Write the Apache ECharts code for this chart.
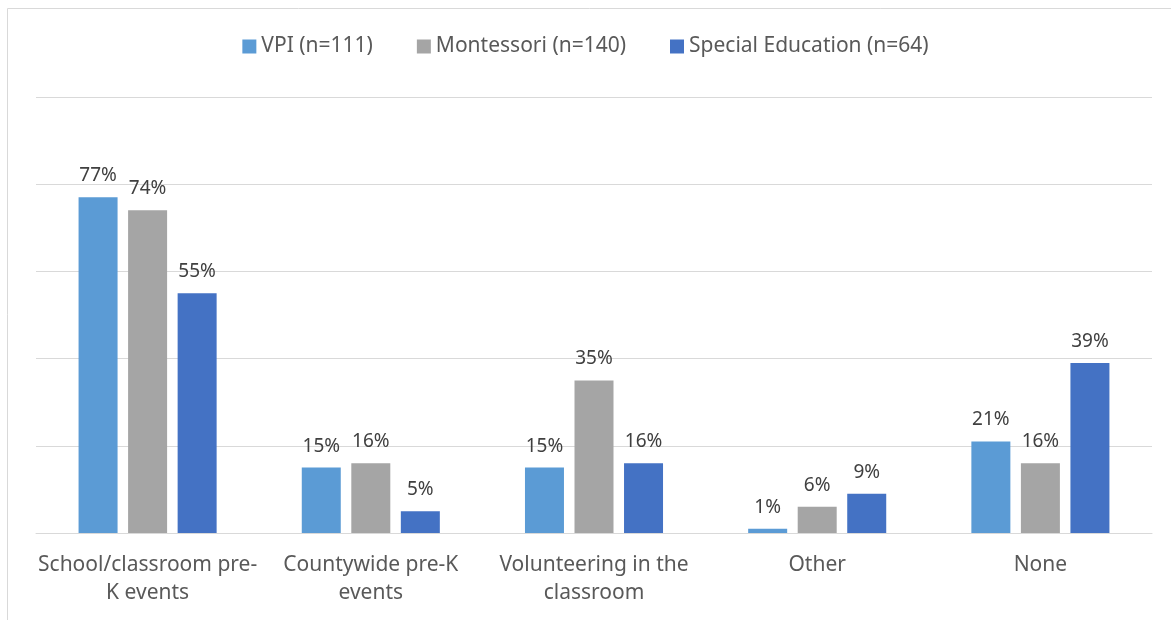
<!DOCTYPE html>
<html>
<head>
<meta charset="utf-8">
<script src="https://cdn.jsdelivr.net/npm/echarts@6/dist/echarts.min.js"></script>
<style>
  html, body { margin: 0; padding: 0; background: #fff; }
  #main { width: 1171px; height: 620px; }
</style>
</head>
<body>
<div id="main"></div>
<script>
	// 数据
	var categories = ['School/classroom pre-\nK events', 'Countywide pre-K\nevents', 'Volunteering in the\nclassroom', 'Other', 'None'];
	var seriesNames = ['VPI (n=111)', 'Montessori (n=140)', 'Special Education (n=64)'];
	var vpi = [77, 15, 15, 1, 21];
	var montessori = [74, 16, 35, 6, 16];
	var specialEd = [55, 5, 16, 9, 39];
	var colors = ['#5B9BD5', '#A5A5A5', '#4472C4'];

	var fontName = 'Noto Sans';
	var textColor = '#595959';

	function makeSeries(name, data, color){
		return {
			name: name,
			type: 'bar',
			data: data,
			barWidth: 39,
			barGap: '27%',
			itemStyle: { color: color },
			label: {
				show: true,
				position: 'top',
				distance: 12,
				formatter: '{c}%',
				color: '#404040',
				fontSize: 19,
				fontFamily: fontName
			}
		};
	}

	var myChart = echarts.init(document.getElementById('main'));
	var option = {
		animation: false,
		textStyle: { fontFamily: fontName },
		legend: {
			top: 31,
			left: 'center',
			itemWidth: 14,
			itemHeight: 14,
			itemGap: 44,
			icon: 'rect',
			textStyle: { color: textColor, fontSize: 21, fontFamily: fontName },
			data: seriesNames
		},
		graphic: [{
			type: 'rect',
			shape: { x: 7.5, y: 8.5, width: 1200, height: 700 },
			style: { fill: 'none', stroke: '#d9d9d9', lineWidth: 1 },
			silent: true
		}],
		grid: { left: 36, right: 19, top: 97, bottom: 87 },
		xAxis: {
			type: 'category',
			data: categories,
			axisLine: { show: true, lineStyle: { color: '#d9d9d9', width: 1 } },
			axisTick: { show: false },
			axisLabel: {
				color: textColor,
				fontSize: 21,
				fontFamily: fontName,
				lineHeight: 28,
				margin: 18,
				interval: 0
			}
		},
		yAxis: {
			type: 'value',
			min: 0,
			max: 100,
			interval: 20,
			axisLabel: { show: false },
			axisLine: { show: false },
			axisTick: { show: false },
			splitLine: { lineStyle: { color: '#d9d9d9', width: 1 } }
		},
		series: [
			makeSeries(seriesNames[0], vpi, colors[0]),
			makeSeries(seriesNames[1], montessori, colors[1]),
			makeSeries(seriesNames[2], specialEd, colors[2])
		]
	};
	myChart.setOption(option);
</script>
</body>
</html>
